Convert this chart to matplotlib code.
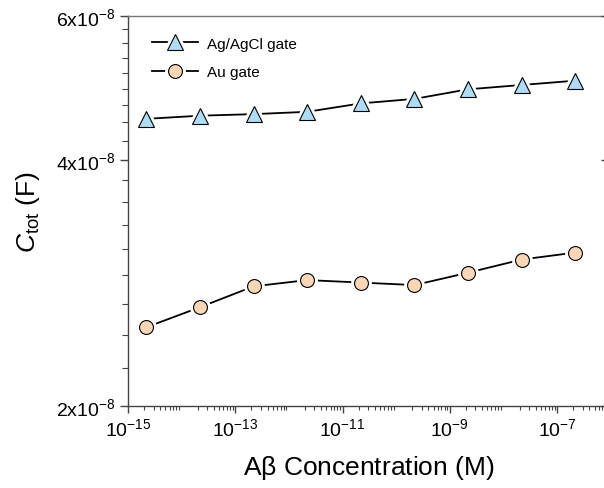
import numpy as np
import matplotlib
matplotlib.use("Agg")
import matplotlib.pyplot as plt
from matplotlib.ticker import FixedLocator, FixedFormatter, LogLocator, NullFormatter, NullLocator
from matplotlib.legend_handler import HandlerTuple

plt.rcParams['font.family'] = ['Liberation Sans', 'DejaVu Sans']
plt.rcParams['mathtext.fontset'] = 'custom'
plt.rcParams['mathtext.rm'] = 'Liberation Sans'
plt.rcParams['mathtext.it'] = 'Liberation Sans:italic'

# Aβ concentration (M) and total capacitance (F) for the two gate electrodes
conc = [2.2e-15, 2.2e-14, 2.2e-13, 2.2e-12, 2.2e-11, 2.2e-10, 2.2e-9, 2.2e-8, 2.2e-7]
c_agagcl = [4.49e-8, 4.53e-8, 4.55e-8, 4.58e-8, 4.69e-8, 4.75e-8, 4.88e-8, 4.94e-8, 5.00e-8]
c_au = [2.495e-8, 2.64e-8, 2.80e-8, 2.85e-8, 2.83e-8, 2.81e-8, 2.91e-8, 3.02e-8, 3.08e-8]

y_major = [2e-8, 4e-8, 6e-8]
y_labels = [r'$2\mathrm{x}10^{-8}$', r'$4\mathrm{x}10^{-8}$', r'$6\mathrm{x}10^{-8}$']
x_major = [1e-15, 1e-13, 1e-11, 1e-9, 1e-7]
x_labels = [r'$10^{-15}$', r'$10^{-13}$', r'$10^{-11}$', r'$10^{-9}$', r'$10^{-7}$']

series = [
    (c_agagcl, '^', 12, '#aedcf5', 'Ag/AgCl gate'),
    (c_au, 'o', 10, '#f9d6b6', 'Au gate'),
]

fig = plt.figure(figsize=(6.04, 4.89), dpi=100)
ax = fig.add_axes([0.2119, 0.1683, 0.7991, 0.7969])
ax.set_xscale('log')
ax.set_yscale('log')

handles = []
for yv, mk, ms, fc, label in series:
    ln, = ax.plot(conc, yv, '-', color='black', lw=1.3, zorder=2)
    # white halo under each marker leaves a gap between line and symbol
    halo, = ax.plot(conc, yv, ls='none', marker=mk, ms=ms, mfc='white',
                    mec='white', mew=5, zorder=3)
    mark, = ax.plot(conc, yv, ls='none', marker=mk, ms=ms, mfc=fc,
                    mec='black', mew=0.8, zorder=4)
    handles.append(((ln, halo, mark), label))

ax.set_xlim(1e-15, 1e-6)
ax.set_ylim(2e-8, 6e-8)

ax.xaxis.set_major_locator(FixedLocator(x_major))
ax.xaxis.set_major_formatter(FixedFormatter(x_labels))
ax.xaxis.set_minor_locator(LogLocator(base=10, subs=np.arange(2, 10), numticks=20))
ax.xaxis.set_minor_formatter(NullFormatter())

ax.yaxis.set_major_locator(FixedLocator(y_major))
ax.yaxis.set_major_formatter(FixedFormatter(y_labels))
y_minor = np.concatenate([np.linspace(a, b, 10)[1:-1] for a, b in zip(y_major[:-1], y_major[1:])])
ax.yaxis.set_minor_locator(FixedLocator(y_minor))
ax.yaxis.set_minor_formatter(NullFormatter())

for s in ax.spines.values():
    s.set_color('#444444')
    s.set_linewidth(1.0)
ax.spines['top'].set_color('#777777')

ax.tick_params(axis='both', which='major', labelsize=14, color='#444444', width=1.0)
ax.tick_params(axis='x', which='major', direction='out', length=5, pad=3)
ax.tick_params(axis='x', which='minor', direction='out', length=3, width=0.8, color='#444444')
ax.tick_params(axis='y', which='major', direction='out', length=6, pad=3)
ax.tick_params(axis='y', which='minor', direction='out', length=4, width=0.8, color='#444444')

# right-hand axis carries only inward major ticks
rax = ax.twinx()
rax.set_yscale('log')
rax.set_ylim(ax.get_ylim())
rax.yaxis.set_major_locator(FixedLocator(y_major))
rax.yaxis.set_minor_locator(NullLocator())
rax.tick_params(axis='y', direction='in', length=7, width=1.0, color='#444444', labelright=False)
for s in rax.spines.values():
    s.set_visible(False)

ax.set_xlabel(r'A$\mathrm{\beta}$ Concentration (M)', fontsize=19, labelpad=10)
ax.set_ylabel(r'$C_{\mathrm{tot}}$ (F)', fontsize=19, labelpad=10)

ax.legend([h for h, _ in handles], [l for _, l in handles],
          handler_map={tuple: HandlerTuple(ndivide=1)},
          loc='upper left', bbox_to_anchor=(0.05, 0.947), frameon=False,
          fontsize=11, handlelength=3.0, handletextpad=0.6,
          labelspacing=0.95, borderpad=0, borderaxespad=0)

fig.savefig('out.png', dpi=100)
